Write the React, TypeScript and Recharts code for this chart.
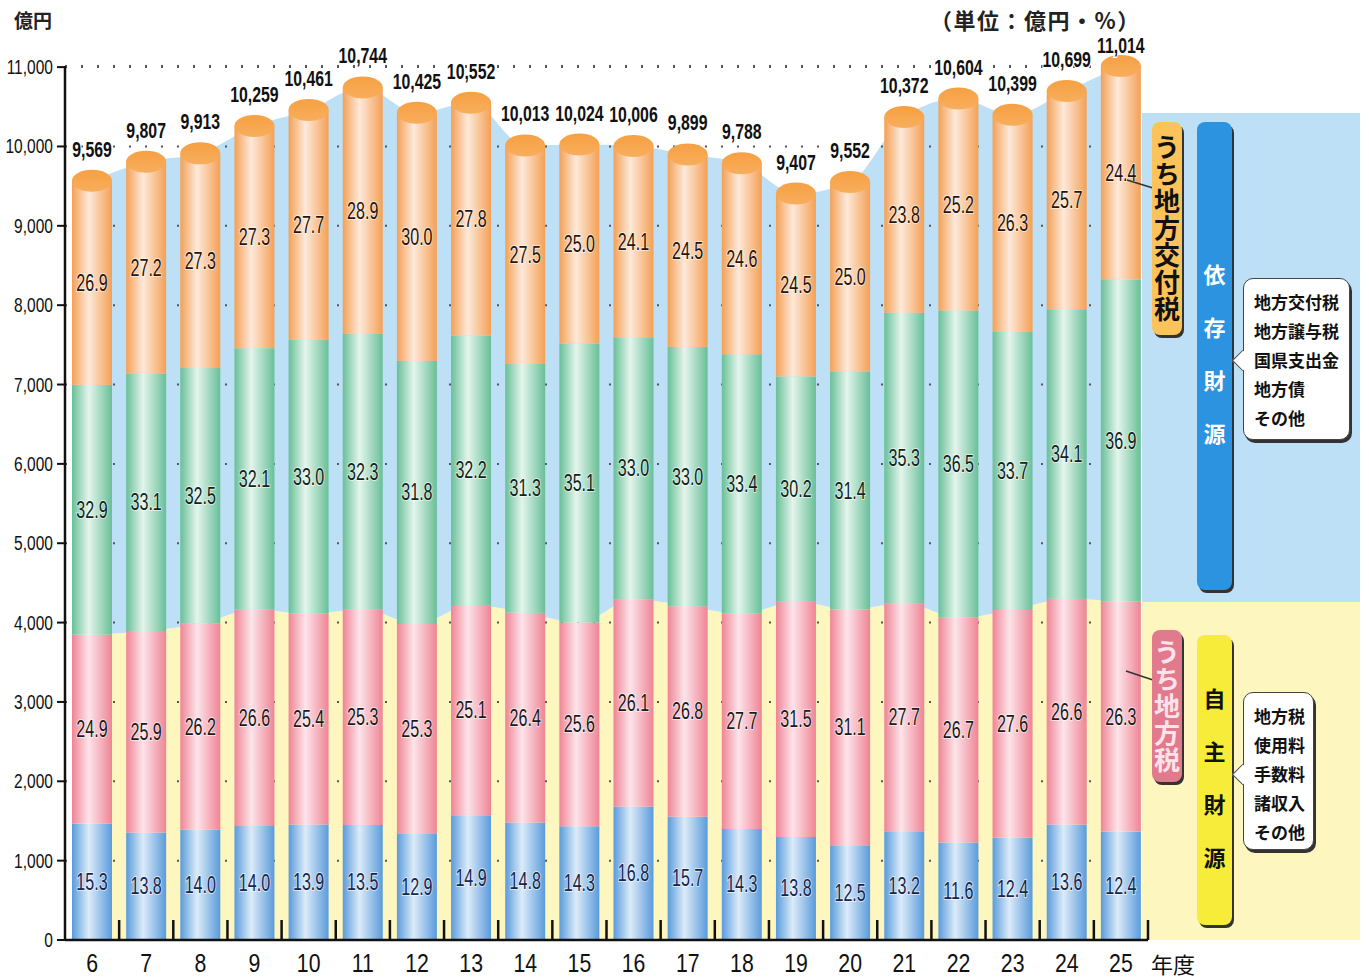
import {
  ComposedChart,
  Bar,
  Area,
  XAxis,
  YAxis,
  CartesianGrid,
  LabelList,
} from "recharts"

// 年度 (Heisei)
const years = ["6", "7", "8", "9", "10", "11", "12", "13", "14", "15", "16", "17", "18", "19", "20", "21", "22", "23", "24", "25"]

// 歳入総額 (億円)
const totals = [9569, 9807, 9913, 10259, 10461, 10744, 10425, 10552, 10013, 10024, 10006, 9899, 9788, 9407, 9552, 10372, 10604, 10399, 10699, 11014]

// shares of the total (%)
const allocationTaxPct = [26.9, 27.2, 27.3, 27.3, 27.7, 28.9, 30.0, 27.8, 27.5, 25.0, 24.1, 24.5, 24.6, 24.5, 25.0, 23.8, 25.2, 26.3, 25.7, 24.4]
const otherDependentPct = [32.9, 33.1, 32.5, 32.1, 33.0, 32.3, 31.8, 32.2, 31.3, 35.1, 33.0, 33.0, 33.4, 30.2, 31.4, 35.3, 36.5, 33.7, 34.1, 36.9]
const localTaxPct = [24.9, 25.9, 26.2, 26.6, 25.4, 25.3, 25.3, 25.1, 26.4, 25.6, 26.1, 26.8, 27.7, 31.5, 31.1, 27.7, 26.7, 27.6, 26.6, 26.3]
const otherOwnPct = [15.3, 13.8, 14.0, 14.0, 13.9, 13.5, 12.9, 14.9, 14.8, 14.3, 16.8, 15.7, 14.3, 13.8, 12.5, 13.2, 11.6, 12.4, 13.6, 12.4]

const yTicks = [0, 1000, 2000, 3000, 4000, 5000, 6000, 7000, 8000, 9000, 10000, 11000]

const dependentItems = ["地方交付税", "地方譲与税", "国県支出金", "地方債", "その他"]
const ownItems = ["地方税", "使用料", "手数料", "諸収入", "その他"]

const data = years.map((year, i) => {
  const t = totals[i]
  const own = (t * otherOwnPct[i]) / 100
  const tax = (t * localTaxPct[i]) / 100
  const dep = (t * otherDependentPct[i]) / 100
  const alloc = (t * allocationTaxPct[i]) / 100
  return {
    year,
    total: t,
    own,
    tax,
    dep,
    alloc,
    ownSum: own + tax,
    depSum: dep + alloc,
    ownPct: otherOwnPct[i],
    taxPct: localTaxPct[i],
    depPct: otherDependentPct[i],
    allocPct: allocationTaxPct[i],
  }
})

const W = 1369
const H = 979
const PLOT_LEFT = 65
const PLOT_RIGHT = 1148
const STEP = (PLOT_RIGHT - PLOT_LEFT) / years.length

const SANS = "'Liberation Sans', Arial, sans-serif"
const JP = "'Noto Sans CJK JP', 'Noto Sans', sans-serif"

// condensed text: Liberation Sans squeezed horizontally
function NarrowText({ x, y, scale = 0.8, children, ...rest }: any) {
  return (
    <text transform={`translate(${x},${y}) scale(${scale},1)`} fontFamily={SANS} {...rest}>
      {children}
    </text>
  )
}

function CapBar(props: any) {
  const { x, y, width, height } = props
  return (
    <g>
      <rect x={x} y={y} width={width} height={height} fill="url(#gOrange)" />
      <ellipse cx={x + width / 2} cy={y} rx={width / 2} ry={11} fill="url(#gCap)" />
    </g>
  )
}

function TotalLabel(props: any) {
  const { x, y, width, value } = props
  return (
    <NarrowText
      x={x + width / 2}
      y={Math.max(y - 24, 53)}
      scale={0.72}
      textAnchor="middle"
      fontWeight={700}
      fontSize={22}
      fill="#111"
      stroke="#fff"
      strokeWidth={3}
      paintOrder="stroke"
    >
      {Number(value).toLocaleString("en-US")}
    </NarrowText>
  )
}

function pctLabel(color: string) {
  return (props: any) => {
    const { x, y, width, height, value } = props
    return (
      <NarrowText
        x={x + width / 2}
        y={y + height / 2 + 8}
        scale={0.7}
        textAnchor="middle"
        fontSize={23}
        fill={color}
        stroke="rgba(255,255,255,0.6)"
        strokeWidth={2}
        paintOrder="stroke"
      >
        {Number(value).toFixed(1)}
      </NarrowText>
    )
  }
}

function YearTick(props: any) {
  const { x, y, payload } = props
  const bx = x + STEP / 2
  return (
    <g>
      <line x1={bx} x2={bx} y1={y} y2={y - 20} stroke="#111" strokeWidth={2.5} />
      <NarrowText x={x} y={y + 32} scale={0.85} textAnchor="middle" fontSize={25} fill="#111">
        {payload.value}
      </NarrowText>
    </g>
  )
}

function ValueTick(props: any) {
  const { x, y, payload } = props
  return (
    <NarrowText x={x} y={y + 7} scale={0.74} textAnchor="end" fontSize={21} fill="#111">
      {Number(payload.value).toLocaleString("en-US")}
    </NarrowText>
  )
}

function barGradient(id: string, edge: string, light: string) {
  return (
    <linearGradient id={id} x1="0" y1="0" x2="1" y2="0">
      <stop offset="0%" stopColor={edge} />
      <stop offset="42%" stopColor={light} />
      <stop offset="100%" stopColor={edge} />
    </linearGradient>
  )
}

const tagText: React.CSSProperties = {
  position: "absolute",
  writingMode: "vertical-rl",
  textOrientation: "upright",
  fontFamily: JP,
  fontWeight: 700,
  display: "flex",
  alignItems: "center",
  justifyContent: "center",
  borderRadius: 8,
  boxShadow: "2px 3px 0 #333",
}

function Callout({ left, top, width, height, pointerTop, items }: any) {
  return (
    <div
      style={{
        position: "absolute",
        left,
        top,
        width,
        height,
        background: "#fff",
        border: "1.5px solid #444",
        borderRadius: 10,
        boxShadow: "2px 3px 0 #333",
        fontFamily: JP,
        fontWeight: 700,
        fontSize: 17,
        lineHeight: "29px",
        padding: "8px 0 0 10px",
        boxSizing: "border-box",
        color: "#111",
      }}
    >
      <div
        style={{
          position: "absolute",
          left: -9,
          top: pointerTop,
          width: 14,
          height: 14,
          background: "#fff",
          borderLeft: "1.5px solid #444",
          borderBottom: "1.5px solid #444",
          transform: "rotate(45deg)",
        }}
      />
      {items.map((t: string) => (
        <div key={t} style={{ position: "relative" }}>{t}</div>
      ))}
    </div>
  )
}

export default function App() {
  return (
    <div style={{ position: "absolute", left: 0, top: 0, width: W, height: H, background: "#fff", overflow: "hidden" }}>
      {/* right-side panel backgrounds */}
      <div style={{ position: "absolute", left: 1142, top: 113, width: 218, height: 489, background: "#bde0f6" }} />
      <div style={{ position: "absolute", left: 1142, top: 602, width: 218, height: 338, background: "#fdf6bf" }} />

      <div style={{ position: "absolute", left: 0, top: 0 }}>
        <ComposedChart
          width={W}
          height={H}
          data={data}
          margin={{ top: 66, right: W - PLOT_RIGHT, bottom: 0, left: 0 }}
          barSize={40}
        >
          <defs>
            {barGradient("gOrange", "#f4a055", "#fde9da")}
            {barGradient("gGreen", "#68bf98", "#e4f5ec")}
            {barGradient("gPink", "#ef8495", "#fde4ea")}
            {barGradient("gBlue", "#5a9bdb", "#dcebf9")}
            <linearGradient id="gCap" x1="0" y1="0" x2="0" y2="1">
              <stop offset="0%" stopColor="#f6a043" />
              <stop offset="100%" stopColor="#f8ae5c" />
            </linearGradient>
          </defs>
          <XAxis
            dataKey="year"
            axisLine={{ stroke: "#111", strokeWidth: 2.5 }}
            tickLine={false}
            tickSize={0}
            tickMargin={0}
            tick={<YearTick />}
            height={39}
            interval={0}
          />
          <YAxis
            domain={[0, 11014]}
            ticks={yTicks}
            interval={0}
            width={PLOT_LEFT}
            axisLine={{ stroke: "#111", strokeWidth: 2.5 }}
            tickLine={{ stroke: "#111", strokeWidth: 2 }}
            tickSize={8}
            tickMargin={4}
            tick={<ValueTick />}
          />
          <Area
            type="monotone"
            dataKey="ownSum"
            stackId="bg"
            stroke="none"
            fill="#fdf6bf"
            fillOpacity={1}
            isAnimationActive={false}
            dot={false}
            activeDot={false}
          />
          <Area
            type="monotone"
            dataKey="depSum"
            stackId="bg"
            stroke="none"
            fill="#bde0f6"
            fillOpacity={1}
            isAnimationActive={false}
            dot={false}
            activeDot={false}
          />
          <CartesianGrid
            vertical={false}
            stroke="#555"
            strokeWidth={2}
            strokeDasharray="2 14"
            {...({ zIndex: 150 } as any)}
          />
          <Bar dataKey="own" stackId="s" fill="url(#gBlue)" isAnimationActive={false}>
            <LabelList dataKey="ownPct" content={pctLabel("#15264f")} />
          </Bar>
          <Bar dataKey="tax" stackId="s" fill="url(#gPink)" isAnimationActive={false}>
            <LabelList dataKey="taxPct" content={pctLabel("#1a1a1a")} />
          </Bar>
          <Bar dataKey="dep" stackId="s" fill="url(#gGreen)" isAnimationActive={false}>
            <LabelList dataKey="depPct" content={pctLabel("#10241c")} />
          </Bar>
          <Bar dataKey="alloc" stackId="s" fill="url(#gOrange)" shape={<CapBar />} isAnimationActive={false}>
            <LabelList dataKey="allocPct" content={pctLabel("#2a1408")} />
            <LabelList dataKey="total" content={<TotalLabel />} />
          </Bar>
        </ComposedChart>
      </div>

      {/* titles */}
      <div style={{ position: "absolute", left: 14, top: 6, fontFamily: JP, fontWeight: 700, fontSize: 19, color: "#222" }}>億円</div>
      <div style={{ position: "absolute", left: 930, top: 3, fontFamily: JP, fontWeight: 700, fontSize: 22, color: "#222", letterSpacing: 1.5 }}>
        （単位：億円・%）
      </div>
      <div style={{ position: "absolute", left: 1151, top: 947, fontFamily: JP, fontSize: 22, color: "#111" }}>年度</div>

      {/* connector lines */}
      <svg style={{ position: "absolute", left: 0, top: 0 }} width={W} height={H}>
        <line x1={1127} y1={180} x2={1153} y2={188} stroke="#333" strokeWidth={1.5} />
        <line x1={1126} y1={671} x2={1153} y2={680} stroke="#333" strokeWidth={1.5} />
      </svg>

      {/* うち地方交付税 tag */}
      <div style={{ ...tagText, left: 1152, top: 122, width: 30, height: 213, background: "#fbc35a", fontSize: 26, color: "#111", letterSpacing: 1 }}>
        うち地方交付税
      </div>
      {/* うち地方税 tag */}
      <div style={{ ...tagText, left: 1152, top: 630, width: 30, height: 152, background: "#e27a8d", fontSize: 26, color: "#fde3ea", letterSpacing: 1 }}>
        うち地方税
      </div>

      {/* 依存財源 */}
      <div style={{ ...tagText, left: 1197, top: 122, width: 35, height: 468, background: "#2b93e0", fontSize: 22, color: "#fff", letterSpacing: 31, paddingTop: 28, boxSizing: "border-box" }}>
        依存財源
      </div>
      <Callout left={1243} top={278} width={107} height={162} pointerTop={74} items={dependentItems} />

      {/* 自主財源 */}
      <div style={{ ...tagText, left: 1197, top: 635, width: 35, height: 290, background: "#f7ec3a", fontSize: 22, color: "#111", letterSpacing: 31, paddingTop: 28, boxSizing: "border-box" }}>
        自主財源
      </div>
      <Callout left={1243} top={692} width={71} height={158} pointerTop={74} items={ownItems} />
    </div>
  )
}
